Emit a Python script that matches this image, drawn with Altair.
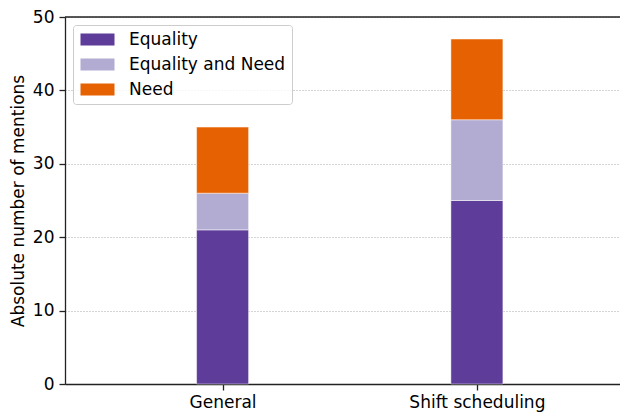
import altair as alt
import pandas as pd

categories = ["General", "Shift scheduling"]
positions = [0, 1]
series = ["Equality", "Equality and Need", "Need"]
colors = ["#5e3c99", "#b2abd2", "#e66101"]
equality = [21, 25]
equality_need = [5, 11]
need = [9, 11]
y_ticks = [0, 10, 20, 30, 40, 50]

rows = []
for i, cat in enumerate(categories):
    for k, (s, vals) in enumerate(zip(series, [equality, equality_need, need])):
        rows.append({"category": cat, "pos": positions[i], "series": s,
                     "order": k, "value": vals[i]})
df = pd.DataFrame(rows)

label_expr = "[" + ",".join("'%s'" % c for c in categories) + "][datum.value]"
FONT = "DejaVu Sans"
AX = "#222222"
FS = 17

bars = alt.Chart(df).mark_bar(width=52, stroke="white", strokeWidth=0.8,
                              strokeOpacity=0.6).encode(
    x=alt.X("pos:Q",
            scale=alt.Scale(domain=[-0.6, 1.543], nice=False, zero=False),
            axis=alt.Axis(values=positions, labelExpr=label_expr, grid=False,
                          title=None, tickSize=6, labelPadding=4,
                          domainColor=AX, tickColor=AX, domainWidth=1.3,
                          tickWidth=1.3)),
    y=alt.Y("value:Q", stack="zero",
            scale=alt.Scale(domain=[0, 50], nice=False),
            axis=alt.Axis(values=y_ticks, title="Absolute number of mentions",
                          grid=True, gridDash=[1, 2], gridColor="#aaaaaa",
                          gridWidth=1, tickSize=6, labelPadding=5,
                          titlePadding=5, domainColor=AX, tickColor=AX,
                          domainWidth=1.3, tickWidth=1.3)),
    color=alt.Color("series:N",
                    scale=alt.Scale(domain=series, range=colors),
                    legend=alt.Legend(title=None, orient="none", legendX=8,
                                      legendY=8, padding=6,
                                      strokeColor="#cccccc", cornerRadius=3,
                                      fillColor="rgba(255,255,255,0.8)",
                                      symbolType="M-2,-0.7L2,-0.7L2,0.7L-2,0.7Z",
                                      symbolSize=289, symbolStrokeWidth=0,
                                      symbolOpacity=1, symbolOffset=10,
                                      labelFontSize=FS, labelFont=FONT,
                                      labelColor="black", labelOffset=23,
                                      rowPadding=7)),
    order=alt.Order("order:Q", sort="ascending"),
)

top = alt.Chart(pd.DataFrame({"y": [50]})).mark_rule(
    color=AX, strokeWidth=1.3).encode(y="y:Q")

chart = alt.layer(bars, top).properties(
    width=555, height=367,
    autosize=alt.AutoSizeParams(type="none"),
    padding={"left": 57, "top": 9, "right": 0, "bottom": 28},
).configure_view(stroke=None).configure_axis(
    labelFont=FONT, titleFont=FONT, labelFontSize=FS, titleFontSize=FS,
    titleFontWeight="normal", labelColor="black", titleColor="black",
)

chart.save("out.html", embed_options={"renderer": "svg", "actions": False})
